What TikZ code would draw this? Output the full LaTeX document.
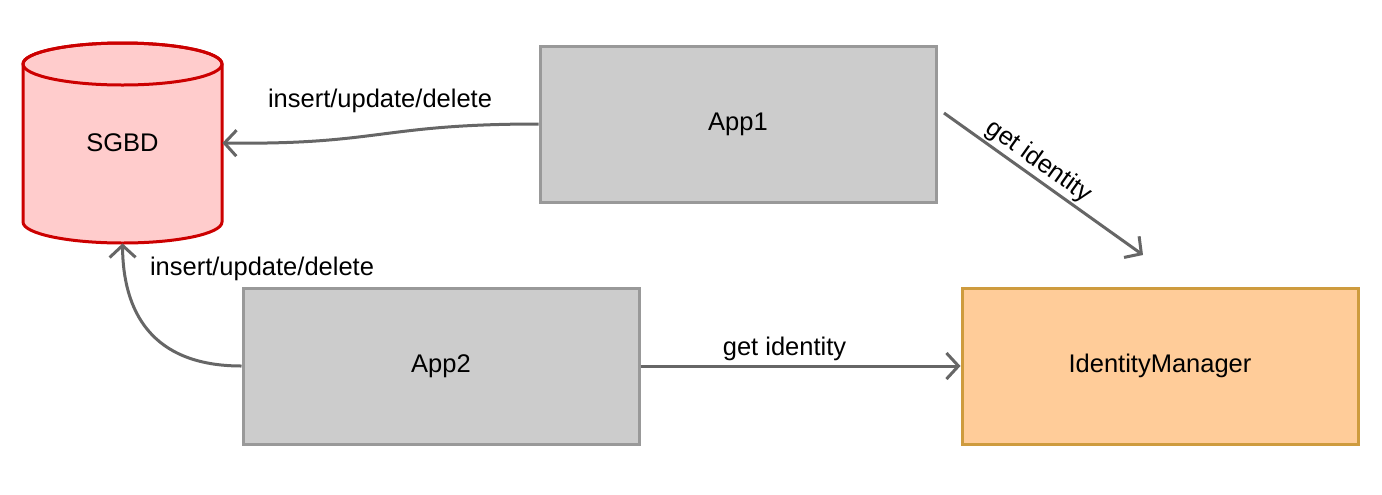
\documentclass[tikz,border=0pt]{standalone}
\usepackage{fontspec}
\setmainfont{Liberation Sans}
\usetikzlibrary{arrows.meta}
\definecolor{boxfill}{HTML}{CCCCCC}
\definecolor{boxline}{HTML}{999999}
\definecolor{dbfill}{HTML}{FFCCCC}
\definecolor{dbline}{HTML}{CC0000}
\definecolor{imfill}{HTML}{FFCC99}
\definecolor{imline}{RGB}{206,155,62}
\definecolor{arrowcol}{HTML}{666666}
\tikzset{
  every node/.style={font=\fontsize{12.75}{15}\selectfont, text=black},
  appbox/.style={draw=boxline, fill=boxfill, line width=1.5pt, minimum width=198pt, minimum height=78pt, inner sep=0pt},
  imbox/.style={draw=imline, fill=imfill, line width=1.5pt, minimum width=198pt, minimum height=78pt, inner sep=0pt},
  conn/.style={draw=arrowcol, line width=1.5pt, -{Straight Barb[length=6pt,width=13pt,line width=1.5pt]}},
  lbl/.style={inner sep=1pt}
}
\begin{document}
\begin{tikzpicture}[x=0.5pt,y=-0.5pt]
\useasboundingbox (0,0) rectangle (1382,494);
% cylinder
\draw[draw=dbline, fill=dbfill, line width=1.5pt]
  (23,64) -- (23,222) arc[start angle=180, end angle=360, x radius=49.75pt, y radius=10.5pt]
  -- (222,64) arc[start angle=0, end angle=180, x radius=49.75pt, y radius=10.5pt] -- cycle;
\draw[draw=dbline, line width=1.5pt] (122.5,64) ellipse[x radius=49.75pt, y radius=10.5pt];
\node[minimum width=99.5pt, minimum height=100pt, inner sep=0pt] (sgbd) at (122.5,143) {SGBD};

\node[appbox] (app1) at (738,124) {App1};
\node[appbox] (app2) at (441,366) {App2};
\node[imbox] (im) at (1160,366) {IdentityManager};

\draw[conn] (app1.west) .. controls (380,124) and (380,145) .. (sgbd.east);
\node[lbl] (l1) at (380,101) {insert/update/delete};

\draw[conn] (app2.west) .. controls (150,366) and (123,310) .. (sgbd.south);
\node[lbl] (l2) at (262,269) {insert/update/delete};

\coordinate (a1out) at (944,113);
\coordinate (imin) at (1143,255);
\draw[conn] (a1out) -- node[lbl, pos=0.43, sloped, above=0pt] {get identity} (imin);

\draw[conn] (app2.east) -- node[lbl, pos=0.45, above=1pt] {get identity} (im.west);
\end{tikzpicture}
\end{document}
